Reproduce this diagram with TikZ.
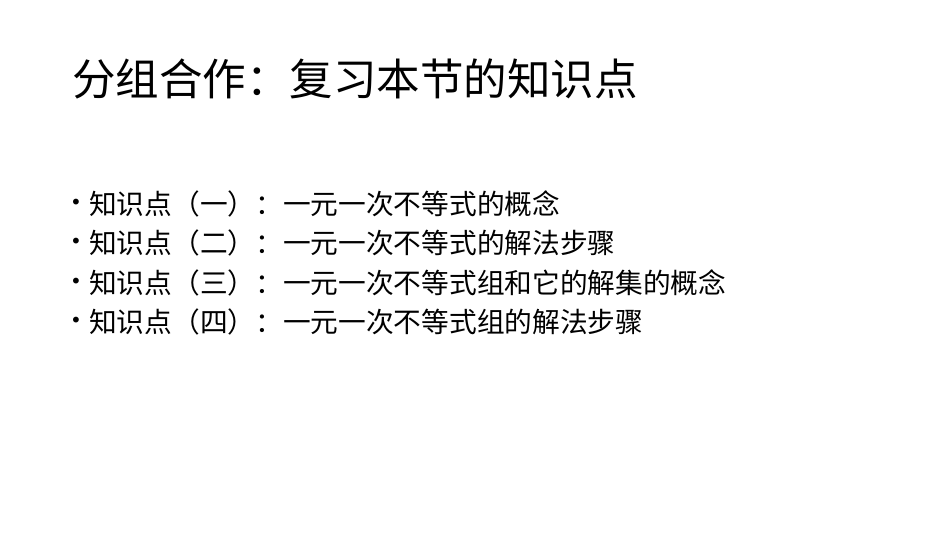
\documentclass[tikz,border=0pt]{standalone}
\usepackage{fontspec}
\newfontfamily\cjk{Noto Sans CJK SC}
\newfontfamily\bulfont{DejaVu Sans}
\begin{document}
\begin{tikzpicture}[x=1pt,y=1pt,
  ttl/.style={anchor=west,inner sep=0pt,font=\cjk\fontsize{43.5}{43.5}\selectfont},
  itm/.style={anchor=west,inner sep=0pt,font=\cjk\fontsize{27.7}{27.7}\selectfont},
  bul/.style={anchor=west,inner sep=0pt,font=\bulfont\fontsize{20}{20}\selectfont}]
\useasboundingbox[fill=white] (0,0) rectangle (950,-535);
\node[ttl] (t) at (72,-79) {分组合作：复习本节的知识点};
\foreach \n/\y/\s in {a/204/知识点（一）：一元一次不等式的概念,
                     b/243/知识点（二）：一元一次不等式的解法步骤,
                     c/283/知识点（三）：一元一次不等式组和它的解集的概念,
                     d/322/知识点（四）：一元一次不等式组的解法步骤}{
  \node[bul] (p\n) at (70,-\y) {•};
  \node[itm] (\n) at (89,-\y) {\s};
}
\end{tikzpicture}
\end{document}
